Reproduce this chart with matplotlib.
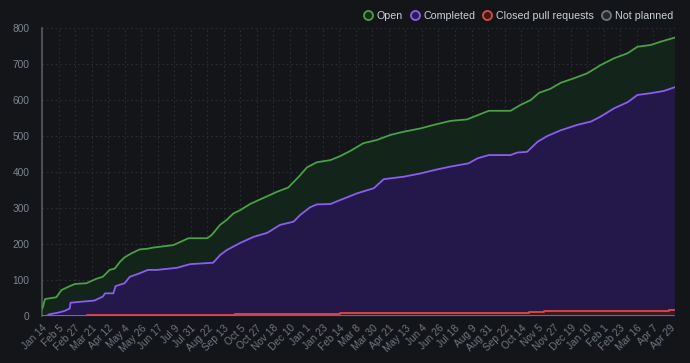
import matplotlib
matplotlib.use("Agg")
import matplotlib.pyplot as plt
from matplotlib.lines import Line2D

plt.rcParams['font.family'] = ['Liberation Sans', 'DejaVu Sans']

# x values: days since Jan 14 (2022)
tick_labels = ["Jan 14", "Feb 5", "Feb 27", "Mar 21", "Apr 12", "May 4", "May 26", "Jun 17",
               "Jul 9", "Jul 31", "Aug 22", "Sep 13", "Oct 5", "Oct 27", "Nov 18", "Dec 10",
               "Jan 1", "Jan 23", "Feb 14", "Mar 8", "Mar 30", "Apr 21", "May 13", "Jun 4",
               "Jun 26", "Jul 18", "Aug 9", "Aug 31", "Sep 22", "Oct 14", "Nov 5", "Nov 27",
               "Dec 19", "Jan 10", "Feb 1", "Feb 23", "Mar 16", "Apr 7", "Apr 29"]
tick_step_days = 22

open_days = [0, 1, 4, 19, 26, 37, 44, 59, 72, 81, 90, 97, 104, 110, 119, 130, 141, 148, 175,
             195, 220, 226, 237, 246, 255, 264, 277, 297, 313, 328, 342, 353, 366, 384, 397,
             411, 428, 446, 464, 482, 504, 522, 544, 566, 584, 595, 624, 637, 651, 662, 677,
             691, 708, 726, 744, 762, 780, 793, 811, 824, 842]
open_top = [20, 24, 47, 52, 72, 83, 89, 91, 103, 109, 128, 132, 151, 163, 174, 185, 187, 190, 197,
            216, 216, 225, 253, 267, 285, 294, 311, 330, 345, 357, 387, 413, 427, 433, 444,
            459, 480, 489, 503, 512, 521, 531, 542, 546, 561, 570, 570, 586, 600, 620, 631,
            648, 660, 674, 697, 716, 730, 748, 753, 762, 773]

completed_days = [0, 6, 10, 21, 30, 37, 38, 70, 81, 84, 95, 98, 110, 117, 128, 141, 153, 180,
                  197, 228, 237, 246, 264, 282, 300, 317, 335, 344, 357, 366, 384, 397, 420,
                  442, 455, 482, 504, 526, 544, 568, 580, 595, 624, 633, 646, 660, 673, 691,
                  713, 731, 744, 762, 780, 793, 811, 828, 842]
completed_top = [0, 0, 5, 9, 14, 21, 37, 43, 54, 63, 63, 83, 91, 109, 117, 128, 128, 134,
                 144, 148, 169, 183, 203, 220, 231, 253, 262, 281, 302, 310, 311, 322, 341,
                 355, 380, 387, 396, 407, 415, 424, 438, 447, 447, 454, 456, 484, 500, 516,
                 531, 540, 554, 577, 594, 614, 619, 625, 635]

closed_pr_days = [0, 60, 233, 257, 308, 397, 473, 648, 668, 781, 835, 842]
closed_pr_top = [1, 2, 4, 5, 6, 7.5, 9, 11, 13, 14, 17, 17]

not_planned_days = [0, 842]
not_planned_top = [1, 1]

bg = "#141519"
fig = plt.figure(figsize=(6.9, 3.63), dpi=100, facecolor=bg)
ax = fig.add_axes([42/690, 1-316/363, (675-42)/690, (316-28)/363], facecolor=bg)

ax.fill_between(open_days, 0, open_top, color="#13241a", lw=0, zorder=1)
ax.fill_between(completed_days, 0, completed_top, color="#24174a", lw=0, zorder=2)
ax.fill_between(closed_pr_days, 0, closed_pr_top, color="#3a1a1c", lw=0, step="post", zorder=3)

ax.plot(open_days, open_top, color="#46a244", lw=1.3, zorder=5)
ax.plot(completed_days, completed_top, color="#8c5cf5", lw=1.3, zorder=5)
ax.plot(closed_pr_days, closed_pr_top, color="#e5473d", lw=1.3, drawstyle="steps-post", zorder=5)
ax.plot(not_planned_days, not_planned_top, color="#6e7681", lw=1.3, zorder=6)

ax.set_xlim(0, 843)
ax.set_ylim(0, 800)
ax.set_yticks(range(0, 801, 100))
ticks = [i * tick_step_days for i in range(len(tick_labels))]
ax.set_xticks(ticks)
ax.set_xticklabels(tick_labels, rotation=45, ha="right", rotation_mode="anchor")

ax.grid(True, color="#2b2d33", linestyle=(0, (1.5, 2.5)), lw=0.8, zorder=0)
ax.set_axisbelow(True)
for s in ["top", "right", "bottom"]:
    ax.spines[s].set_visible(False)
ax.spines["left"].set_color("#555a62")
ax.spines["left"].set_linewidth(1.2)
ax.tick_params(axis="y", length=0, colors="#7d8590", labelsize=7.3, pad=9)
ax.tick_params(axis="x", length=0, colors="#6e7681", labelsize=7.3, pad=5)

handles = [
    Line2D([], [], marker="o", ls="none", markersize=6.5, markerfacecolor="#1c2a1e",
           markeredgecolor="#46a244", markeredgewidth=1.3),
    Line2D([], [], marker="o", ls="none", markersize=6.5, markerfacecolor="#2a1d55",
           markeredgecolor="#8c5cf5", markeredgewidth=1.3),
    Line2D([], [], marker="o", ls="none", markersize=6.5, markerfacecolor="#3d1a1a",
           markeredgecolor="#e5473d", markeredgewidth=1.3),
    Line2D([], [], marker="o", ls="none", markersize=6.5, markerfacecolor="#25272c",
           markeredgecolor="#6e7681", markeredgewidth=1.3),
]
fig.legend(handles, ["Open", "Completed", "Closed pull requests", "Not planned"],
           loc="center right", bbox_to_anchor=(673/690, 1-16/363), ncol=4, frameon=False,
           fontsize=7.7, labelcolor="#c9d1d9", handletextpad=0.4, columnspacing=0.75,
           handlelength=0.8, borderaxespad=0, borderpad=0)

fig.savefig("out.png", dpi=100, facecolor=bg)
